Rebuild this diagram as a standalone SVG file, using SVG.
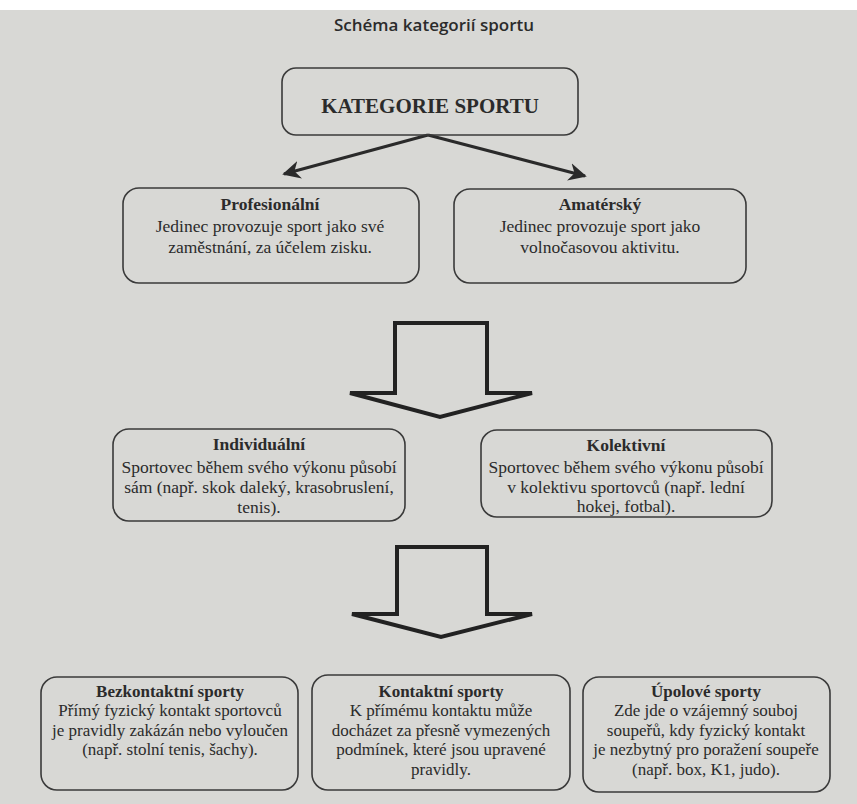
<svg xmlns="http://www.w3.org/2000/svg" width="857" height="804" viewBox="0 0 857 804">
<style>
.bg{fill:#d8d8d5}
.box{fill:none;stroke:#3a3a3a;stroke-width:1.6}
.t{font-family:"Liberation Serif","Times New Roman",serif;fill:#2b2b2b;text-anchor:middle;font-size:17.5px}
.s{font-size:17px}
.b{font-weight:bold}
.title{font-family:"Open Sans","Liberation Sans",sans-serif;font-weight:600;font-size:17px;fill:#2b2b2b;text-anchor:middle}
.ln{stroke:#2a2a2a;stroke-width:3;fill:none}
.hollow{fill:none;stroke:#222;stroke-width:4;stroke-linejoin:miter}
</style>
<defs>
<marker id="ah" viewBox="0 0 10 10" refX="9" refY="5" markerWidth="6" markerHeight="6" orient="auto" markerUnits="strokeWidth">
<path d="M0,0 L10,5 L0,10 L3,5 Z" fill="#2a2a2a"/>
</marker>
</defs>
<rect class="bg" x="0" y="0" width="857" height="804"/>
<rect x="0" y="0" width="857" height="10" fill="#ffffff"/>
<text class="title" x="434" y="31">Schéma kategorií sportu</text>

<g id="connectors">
<line class="ln" x1="428" y1="135" x2="284" y2="174" marker-end="url(#ah)"/>
<line class="ln" x1="428" y1="135" x2="585" y2="176" marker-end="url(#ah)"/>
<polygon class="hollow" points="395,323 487,323 487,393 532,393 440,417 350,393 395,393"/>
<polygon class="hollow" points="397,547 487,547 487,614 532,614 441,637 352,614 397,614"/>
</g>

<g id="kategorie">
<rect class="box" x="282" y="68" width="296" height="67" rx="14"/>
<text class="t b" x="430" y="113" style="font-size:21px">KATEGORIE SPORTU</text>
</g>

<g id="profesionalni">
<rect class="box" x="123" y="188" width="296" height="95" rx="16"/>
<text class="t b" x="270" y="210">Profesionální</text>
<text class="t" x="270" y="232">Jedinec provozuje sport jako své</text>
<text class="t" x="270" y="253">zaměstnání, za účelem zisku.</text>
</g>

<g id="amatersky">
<rect class="box" x="454" y="189" width="292" height="94" rx="16"/>
<text class="t b" x="600" y="210">Amatérský</text>
<text class="t" x="600" y="232">Jedinec provozuje sport jako</text>
<text class="t" x="600" y="253">volnočasovou aktivitu.</text>
</g>

<g id="individualni">
<rect class="box" x="113" y="429" width="292" height="92" rx="16"/>
<text class="t b" x="259" y="450">Individuální</text>
<text class="t" x="259" y="473">Sportovec během svého výkonu působí</text>
<text class="t" x="259" y="493">sám (např. skok daleký, krasobruslení,</text>
<text class="t" x="259" y="513">tenis).</text>
</g>

<g id="kolektivni">
<rect class="box" x="481" y="430" width="291" height="87" rx="16"/>
<text class="t b" x="626" y="451">Kolektivní</text>
<text class="t" x="626" y="473">Sportovec během svého výkonu působí</text>
<text class="t" x="626" y="493">v kolektivu sportovců (např. lední</text>
<text class="t" x="626" y="512">hokej, fotbal).</text>
</g>

<g id="bezkontaktni">
<rect class="box" x="41" y="677" width="257" height="113" rx="16"/>
<text class="t s b" x="170" y="697">Bezkontaktní sporty</text>
<text class="t s" x="170" y="716">Přímý fyzický kontakt sportovců</text>
<text class="t s" x="170" y="736">je pravidly zakázán nebo vyloučen</text>
<text class="t s" x="170" y="755">(např. stolní tenis, šachy).</text>
</g>

<g id="kontaktni">
<rect class="box" x="312" y="675" width="258" height="115" rx="16"/>
<text class="t s b" x="441" y="697">Kontaktní sporty</text>
<text class="t s" x="441" y="716">K přímému kontaktu může</text>
<text class="t s" x="441" y="736">docházet za přesně vymezených</text>
<text class="t s" x="441" y="755">podmínek, které jsou upravené</text>
<text class="t s" x="441" y="775">pravidly.</text>
</g>

<g id="upolove">
<rect class="box" x="583" y="677" width="247" height="115" rx="16"/>
<text class="t s b" x="706" y="697">Úpolové sporty</text>
<text class="t s" x="706" y="716">Zde jde o vzájemný souboj</text>
<text class="t s" x="706" y="736">soupeřů, kdy fyzický kontakt</text>
<text class="t s" x="706" y="755">je nezbytný pro poražení soupeře</text>
<text class="t s" x="706" y="775">(např. box, K1, judo).</text>
</g>
</svg>
